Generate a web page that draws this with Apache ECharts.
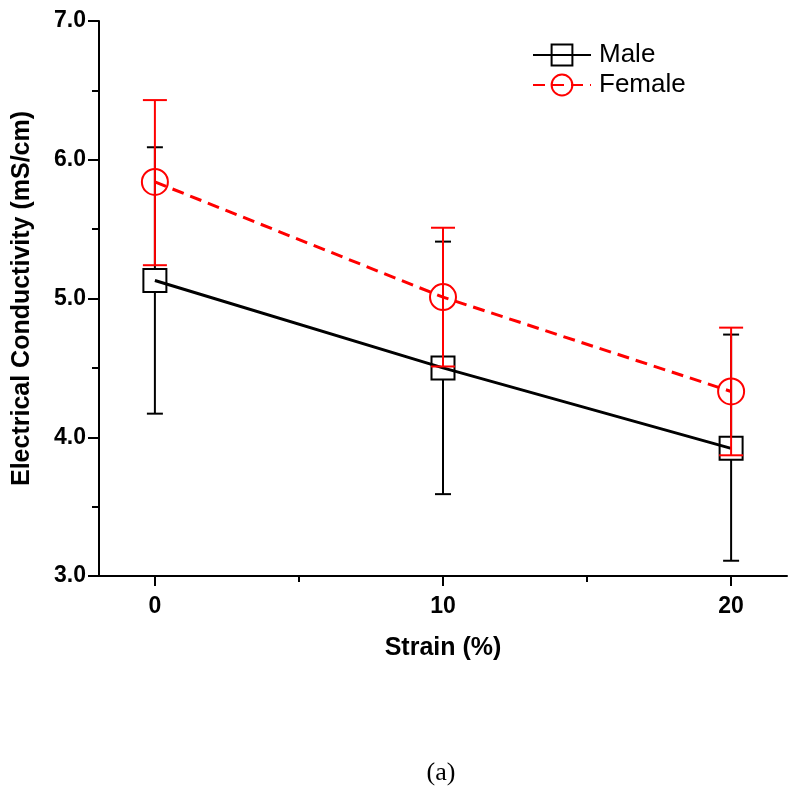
<!DOCTYPE html>
<html>
<head>
<meta charset="utf-8">
<script src="https://cdn.jsdelivr.net/npm/echarts@6/dist/echarts.min.js"></script>
<style>
html,body{margin:0;padding:0;background:#fff;}
#chart{width:800px;height:799px;}
</style>
</head>
<body>
<div id="chart"></div>
<script>
// ---- data ----
var strain = [0, 10, 20];
var maleMean = [5.13, 4.50, 3.92];
var maleHigh = [6.09, 5.41, 4.74];
var maleLow  = [4.17, 3.59, 3.11];
var femaleMean = [5.84, 5.01, 4.33];
var femaleHigh = [6.43, 5.51, 4.79];
var femaleLow  = [5.24, 4.51, 3.87];
var xTicks = [0, 10, 20];
var xMinorTicks = [5, 15];
var seriesNames = ['Male', 'Female'];

function pts(xs, ys) { return xs.map(function (x, i) { return [x, ys[i]]; }); }
function errData(xs, lo, hi, mid) { return xs.map(function (x, i) { return [x, lo[i], hi[i], mid[i]]; }); }

function errRender(color, capW, gap) {
  return function (params, api) {
    var x = api.value(0);
    var lo = api.coord([x, api.value(1)]);
    var hi = api.coord([x, api.value(2)]);
    var mid = api.coord([x, api.value(3)]);
    var st = { stroke: color, lineWidth: 2 };
    var children = [];
    if (gap > 0) {
      children.push({ type: 'line', shape: { x1: hi[0], y1: hi[1], x2: mid[0], y2: mid[1] - gap }, style: st });
      children.push({ type: 'line', shape: { x1: mid[0], y1: mid[1] + gap, x2: lo[0], y2: lo[1] }, style: st });
    } else {
      children.push({ type: 'line', shape: { x1: hi[0], y1: hi[1], x2: lo[0], y2: lo[1] }, style: st });
    }
    children.push({ type: 'line', shape: { x1: hi[0] - capW / 2, y1: hi[1], x2: hi[0] + capW / 2, y2: hi[1] }, style: st });
    children.push({ type: 'line', shape: { x1: lo[0] - capW / 2, y1: lo[1], x2: lo[0] + capW / 2, y2: lo[1] }, style: st });
    return { type: 'group', children: children };
  };
}

var chart = echarts.init(document.getElementById('chart'), null, { renderer: 'canvas' });
var font = '"Liberation Sans", Arial, sans-serif';
var option = {
  backgroundColor: '#fff',
  animation: false,
  textStyle: { fontFamily: font },
  grid: { left: 99, right: 13, top: 21, bottom: 223, containLabel: false, outerBoundsMode: 'none' },
  legend: {
    data: seriesNames,
    orient: 'vertical',
    left: 527,
    top: 37,
    itemWidth: 58,
    itemHeight: 26,
    itemGap: 4,
    textStyle: { fontFamily: font, fontSize: 26, color: '#000', padding: [0, 0, 0, 3] }
  },
  xAxis: [{
    type: 'value', min: -1.94, max: 21.94,
    axisLine: { onZero: false, lineStyle: { color: '#000', width: 2 } },
    axisTick: { customValues: xTicks, length: 10, lineStyle: { color: '#000', width: 2 } },
    axisLabel: { customValues: xTicks, margin: 19, color: '#000', fontWeight: 'bold', fontSize: 23, fontFamily: font },
    splitLine: { show: false },
    name: 'Strain (%)', nameLocation: 'middle', nameGap: 60,
    nameTextStyle: { fontWeight: 'bold', fontSize: 25, color: '#000', fontFamily: font }
  }, {
    type: 'value', min: -1.94, max: 21.94, position: 'bottom',
    axisLine: { show: false, onZero: false },
    axisTick: { customValues: xMinorTicks, length: 6, lineStyle: { color: '#000', width: 2 } },
    axisLabel: { show: false },
    splitLine: { show: false }
  }],
  yAxis: {
    type: 'value', min: 3, max: 7, interval: 1,
    axisLine: { show: true, onZero: false, lineStyle: { color: '#000', width: 2 } },
    axisTick: { show: true, length: 11, lineStyle: { color: '#000', width: 2 } },
    minorTick: { show: true, splitNumber: 2, length: 7, lineStyle: { color: '#000', width: 2 } },
    axisLabel: { margin: 13, color: '#000', fontWeight: 'bold', fontSize: 23, fontFamily: font,
      formatter: function (v) { return v.toFixed(1); } },
    splitLine: { show: false },
    name: 'Electrical Conductivity (mS/cm)', nameLocation: 'middle', nameGap: 64,
    nameTextStyle: { fontWeight: 'bold', fontSize: 25, color: '#000', fontFamily: font }
  },
  series: [
    {
      type: 'custom', name: 'maleErr', renderItem: errRender('#000', 16, 11.5),
      data: errData(strain, maleLow, maleHigh, maleMean), z: 1, silent: true
    },
    {
      type: 'line', name: 'Male', data: pts(strain, maleMean), z: 2,
      symbol: 'rect', symbolSize: 23,
      lineStyle: { color: '#000', width: 3 },
      itemStyle: { color: 'rgba(0,0,0,0)', borderColor: '#000', borderWidth: 2 }
    },
    {
      type: 'custom', name: 'femaleErr', renderItem: errRender('#f00', 24, 0),
      data: errData(strain, femaleLow, femaleHigh, femaleMean), z: 3, silent: true
    },
    {
      type: 'line', name: 'Female', data: pts(strain, femaleMean), z: 4,
      symbol: 'circle', symbolSize: 26,
      lineStyle: { color: '#f00', width: 3, type: [12, 7] },
      itemStyle: { color: 'rgba(0,0,0,0)', borderColor: '#f00', borderWidth: 2 }
    }
  ],
  graphic: [{
    type: 'text', x: 441, y: 773,
    style: { text: '(a)', font: '26px "Liberation Serif", "Times New Roman", serif', fill: '#000',
      textAlign: 'center', textVerticalAlign: 'middle' }
  }]
};
chart.setOption(option);
</script>
</body>
</html>
